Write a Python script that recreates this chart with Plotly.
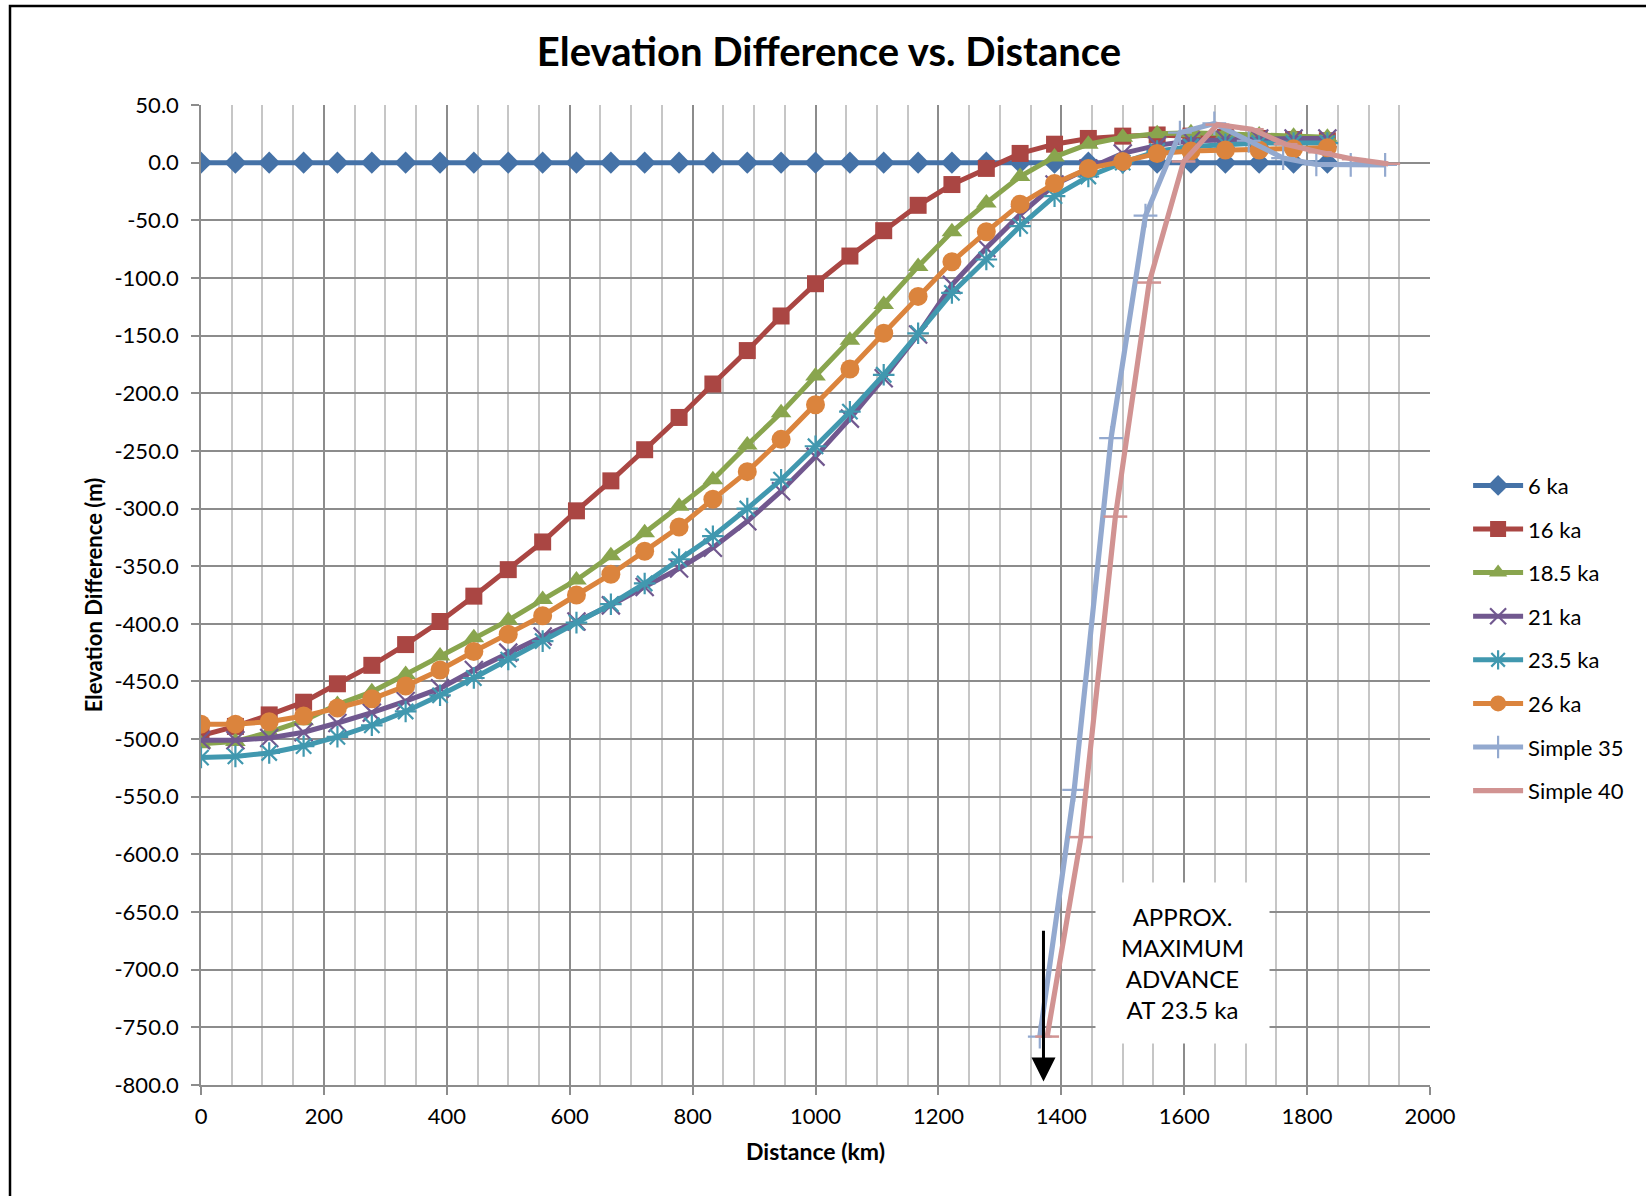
import plotly.graph_objects as go

# ---------------- data ----------------
DIST_KM = [0, 56, 111, 167, 222, 278, 333, 389, 444, 500, 556, 611, 667, 722, 778, 833, 889,
           944, 1000, 1056, 1111, 1167, 1222, 1278, 1333, 1389, 1444, 1500, 1556, 1611, 1667,
           1722, 1778, 1833]

KA_6 = [0, 0, 0, 0, 0, 0, 0, 0, 0, 0, 0, 0, 0, 0, 0, 0, 0,
        0, 0, 0, 0, 0, 0, 0, 0, 0, 0, 0, 0, 0, 0, 0, 0, 0]
KA_16 = [-497, -489, -479, -468, -452, -436, -418, -398, -376, -353, -329, -302, -276, -249,
         -221, -192, -163, -133, -105, -81, -59, -37, -19, -5, 8, 16, 21, 23, 24, 23, 22, 21,
         20, 19]
KA_18_5 = [-504, -502, -494, -484, -470, -459, -444, -428, -412, -397, -379, -362, -341, -321,
           -298, -275, -245, -217, -185, -154, -123, -90, -60, -35, -12, 5, 16, 22, 25, 26, 25,
           24, 23, 22]
KA_21 = [-501, -501, -499, -494, -486, -477, -467, -456, -440, -425, -411, -398, -384, -368,
         -352, -334, -311, -285, -255, -222, -187, -149, -106, -74, -45, -19, -5, 8, 15, 19,
         20, 21, 21, 21]
KA_23_5 = [-516, -515, -512, -506, -498, -488, -476, -462, -447, -431, -415, -399, -383, -365,
           -344, -324, -300, -275, -246, -216, -184, -148, -113, -84, -55, -29, -12, 0, 10, 14,
           16, 17, 17, 17]
KA_26 = [-487, -487, -485, -480, -473, -465, -454, -440, -424, -409, -393, -375, -357, -337,
         -316, -292, -268, -240, -210, -179, -148, -116, -86, -60, -36, -18, -5, 1, 8, 10, 11,
         11, 12, 13]

SIMPLE35_X = [1365, 1421, 1481, 1537, 1593, 1649, 1705, 1761, 1815, 1871, 1927]
SIMPLE35_Y = [-758, -544, -239, -46, 26, 34, 19, 4, -1.5, -2, -2]
SIMPLE40_X = [1377, 1432, 1488, 1543, 1599, 1654, 1710, 1765, 1821, 1876, 1932]
SIMPLE40_Y = [-758, -585, -307, -104, 1, 33, 29, 16, 9, 3, -1]

SERIES_NAMES = ["6 ka", "16 ka", "18.5 ka", "21 ka", "23.5 ka", "26 ka", "Simple 35", "Simple 40"]

Y_TICKS = [50, 0, -50, -100, -150, -200, -250, -300, -350, -400, -450, -500, -550, -600,
           -650, -700, -750, -800]
X_TICKS = [0, 200, 400, 600, 800, 1000, 1200, 1400, 1600, 1800, 2000]

NOTE_TEXT = "APPROX.<br>MAXIMUM<br>ADVANCE<br>AT 23.5 ka"
NOTE_X, NOTE_Y = 1598, -694
ARROW_X, ARROW_TOP, ARROW_TIP = 1371, -665, -797

# ---------------- styles ----------------
FONT = "Lato"
COLORS = ["#4572A7", "#AA4643", "#89A54E", "#71588F", "#4198AF", "#DB843D", "#93A9CF", "#D19392"]

fig = go.Figure()

main = [(KA_6, "diamond", 17, False), (KA_16, "square", 17, False),
        (KA_18_5, "triangle-up", 18, False), (KA_21, "x-thin", 18, True),
        (KA_23_5, "asterisk", 18, True), (KA_26, "circle", 19, False)]

for k, (vals, sym, sz, thin) in enumerate(main):
    c = COLORS[k]
    marker = dict(symbol=sym, size=sz, color=c)
    if thin:
        marker["line"] = dict(color=c, width=2.2)
    else:
        marker["line"] = dict(width=0)
    fig.add_trace(go.Scatter(x=DIST_KM, y=vals, name=SERIES_NAMES[k], mode="lines+markers",
                             line=dict(color=c, width=5), marker=marker,
                             legendgroup=SERIES_NAMES[k]))

fig.add_trace(go.Scatter(x=SIMPLE35_X, y=SIMPLE35_Y, name=SERIES_NAMES[6], mode="lines+markers",
                         line=dict(color=COLORS[6], width=5.2),
                         marker=dict(symbol="cross-thin", size=17, color=COLORS[6],
                                     line=dict(color=COLORS[6], width=2.2)),
                         legendgroup=SERIES_NAMES[6]))
fig.add_trace(go.Scatter(x=SIMPLE40_X, y=SIMPLE40_Y, name=SERIES_NAMES[7], mode="lines+markers",
                         line=dict(color=COLORS[7], width=5.2),
                         marker=dict(symbol="line-ew", size=17, color=COLORS[7],
                                     line=dict(color=COLORS[7], width=2.5)),
                         legendgroup=SERIES_NAMES[7]))

fig.update_layout(
    width=1646, height=1196,
    margin=dict(l=201, r=216, t=105, b=111),
    paper_bgcolor="white", plot_bgcolor="white",
    font=dict(family=FONT, size=22, color="black"),
    title=dict(text="<b>Elevation Difference vs. Distance</b>", x=829 / 1646, xanchor="center",
               y=1 - 52 / 1196, yanchor="middle", yref="container",
               font=dict(family=FONT, size=40, color="black")),
    showlegend=True,
    legend=dict(x=1.031, xanchor="left", y=0.456, yanchor="middle",
                font=dict(family=FONT, size=22, color="black"),
                tracegroupgap=12, itemwidth=50, bgcolor="rgba(0,0,0,0)"),
)

fig.update_xaxes(
    range=[0, 2000], tickvals=X_TICKS, ticktext=[str(v) for v in X_TICKS],
    showgrid=True, gridcolor="#8c8c8c", gridwidth=1.5,
    minor=dict(dtick=50, showgrid=True, gridcolor="#c6c6c6", gridwidth=1.5, ticks=""),
    ticks="outside", ticklen=8, tickcolor="#8c8c8c", tickwidth=1.5, ticklabelstandoff=3,
    showline=True, linecolor="#8c8c8c", linewidth=1.5, zeroline=False,
    tickfont=dict(family=FONT, size=22),
    title=dict(text="<b>Distance (km)</b>", font=dict(family=FONT, size=23), standoff=16),
)
fig.update_yaxes(
    range=[-800, 50], tickvals=Y_TICKS, ticktext=[f"{v:.1f}" for v in Y_TICKS],
    showgrid=True, gridcolor="#8c8c8c", gridwidth=1.5,
    ticks="outside", ticklen=8, tickcolor="#8c8c8c", tickwidth=1.5, ticklabelstandoff=8,
    showline=True, linecolor="#8c8c8c", linewidth=1.5, zeroline=False,
    tickfont=dict(family=FONT, size=22),
    title=dict(text="<b>Elevation Difference (m)</b>", font=dict(family=FONT, size=22), standoff=6),
)

# annotation box
fig.add_annotation(x=NOTE_X, y=NOTE_Y, xref="x", yref="y", text=NOTE_TEXT, showarrow=False,
                   font=dict(family=FONT, size=24, color="black"), bgcolor="white",
                   width=165, height=152, borderpad=4, align="center")
# arrow
fig.add_annotation(x=ARROW_X, y=ARROW_TIP, ax=ARROW_X, ay=ARROW_TOP, xref="x", yref="y",
                   axref="x", ayref="y", text="", showarrow=True, arrowhead=2, arrowsize=1.6,
                   arrowwidth=3, arrowcolor="black")

# outer chart frame
fig.add_shape(type="rect", xref="paper", yref="paper",
              x0=(10 - 201) / 1229, x1=(1700 - 201) / 1229,
              y0=(1085 - 1250) / 980, y1=(1085 - 6) / 980,
              line=dict(color="black", width=2.5), fillcolor="rgba(0,0,0,0)", layer="above")

fig.write_html("out.html")
